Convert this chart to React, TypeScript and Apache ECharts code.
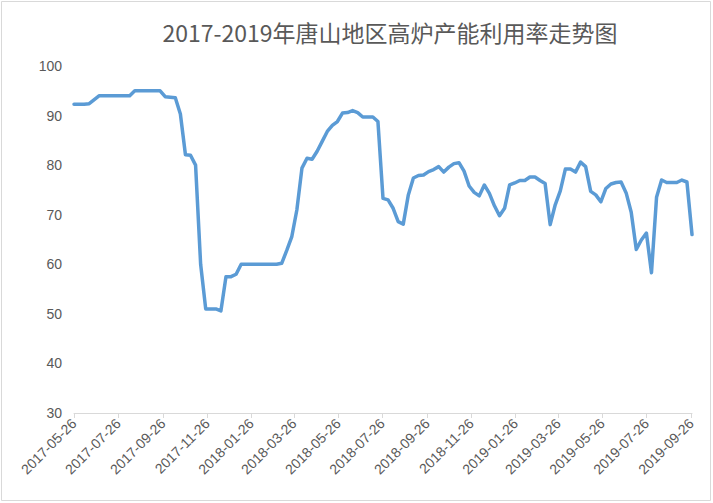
import { useEffect, useRef } from "react";
import * as echarts from "echarts";

const TITLE = "2017-2019年唐山地区高炉产能利用率走势图";

// weekly readings, first week 2017-05-26
const START_DATE = [2017, 4, 26];
const UTILIZATION = [
  92.3, 92.3, 92.3, 92.4, 93.2, 94.0, 94.0, 94.0, 94.0, 94.0, 94.0, 94.0,
  95.0, 95.0, 95.0, 95.0, 95.0, 95.0,
  93.8, 93.7, 93.6, 90.3, 82.1, 82.0, 80.0, 60.0,
  51.0, 51.0, 51.0, 50.6, 57.5, 57.5, 58.0,
  60.0, 60.0, 60.0, 60.0, 60.0, 60.0, 60.0, 60.0, 60.2,
  62.8, 65.6, 71.0, 79.4, 81.4, 81.2, 82.8, 84.8, 86.8, 88.0,
  88.8, 90.5, 90.6, 91.0, 90.6, 89.7, 89.7, 89.7, 88.8,
  73.3, 73.0, 71.3, 68.6, 68.1, 74.0, 77.4, 77.9, 78.0, 78.7,
  79.1, 79.7, 78.6, 79.6, 80.3, 80.5, 78.8, 75.8, 74.5, 73.8,
  76.0, 74.3, 71.8, 69.8, 71.3, 76.0, 76.4, 76.9, 76.9, 77.6,
  77.6, 76.9, 76.3, 68.0, 72.0, 74.8, 79.2, 79.2, 78.6, 80.6,
  79.7, 74.7, 74.0, 72.6, 75.3, 76.2, 76.5, 76.6, 74.4, 70.5,
  63.0, 64.9, 66.3, 58.3, 73.5, 77.0, 76.5, 76.5, 76.5, 77.0,
  76.6, 66.0,
];

const TICK_LABELS = [
  "2017-05-26", "2017-07-26", "2017-09-26", "2017-11-26", "2018-01-26",
  "2018-03-26", "2018-05-26", "2018-07-26", "2018-09-26", "2018-11-26",
  "2019-01-26", "2019-03-26", "2019-05-26", "2019-07-26", "2019-09-26",
];

const toTime = (s: string) => {
  const [y, m, d] = s.split("-").map(Number);
  return new Date(y, m - 1, d).getTime();
};

const pad = (n: number) => (n < 10 ? "0" + n : "" + n);
const fmt = (t: number) => {
  const d = new Date(t);
  return d.getFullYear() + "-" + pad(d.getMonth() + 1) + "-" + pad(d.getDate());
};

const App = () => {
  const chartRef = useRef<HTMLDivElement>(null);

  useEffect(() => {
    document.body.style.margin = "0";
    if (!chartRef.current) return;
    const chart = echarts.init(chartRef.current, null, { renderer: "svg" });

    const points = UTILIZATION.map((v, i) => [
      new Date(START_DATE[0], START_DATE[1], START_DATE[2] + 7 * i).getTime(),
      v,
    ]);
    const ticks = TICK_LABELS.map(toTime);

    chart.setOption({
      animation: false,
      backgroundColor: "#fff",
      title: {
        text: TITLE,
        left: 385,
        top: 15,
        textAlign: "center",
        textStyle: {
          fontFamily: '"Noto Sans CJK SC", sans-serif',
          fontSize: 23,
          fontWeight: "normal",
          color: "#595959",
        },
      },
      graphic: [
        {
          type: "rect",
          shape: { x: 1.5, y: 1.5, width: 709, height: 499 },
          style: { fill: "none", stroke: "#d9d9d9", lineWidth: 1 },
          silent: true,
        },
      ],
      grid: { left: 74, right: 21, top: 66, bottom: 90 },
      xAxis: {
        type: "value",
        min: toTime("2017-05-26"),
        max: toTime("2019-09-27"),
        axisLine: { lineStyle: { color: "#d9d9d9", width: 1 } },
        axisTick: {
          show: true,
          customValues: ticks,
          length: 5,
          lineStyle: { color: "#d9d9d9" },
        },
        axisLabel: {
          customValues: ticks,
          rotate: 45,
          margin: 8,
          formatter: (v: number) => fmt(v),
          fontFamily: '"Liberation Sans", sans-serif',
          fontSize: 14,
          color: "#595959",
        },
        splitLine: { show: false },
      },
      yAxis: {
        type: "value",
        min: 30,
        max: 100,
        interval: 10,
        axisLine: { show: false },
        axisTick: { show: false },
        splitLine: { show: false },
        axisLabel: {
          margin: 12,
          fontFamily: '"Liberation Sans", sans-serif',
          fontSize: 14,
          color: "#595959",
        },
      },
      series: [
        {
          name: "高炉产能利用率",
          type: "line",
          data: points,
          showSymbol: false,
          lineStyle: { color: "#5B9BD5", width: 3.5, join: "round", cap: "round" },
          itemStyle: { color: "#5B9BD5" },
        },
      ],
    });

    return () => {
      chart.dispose();
    };
  }, []);

  return <div ref={chartRef} style={{ width: "713px", height: "503px" }}></div>;
};

export default App;
